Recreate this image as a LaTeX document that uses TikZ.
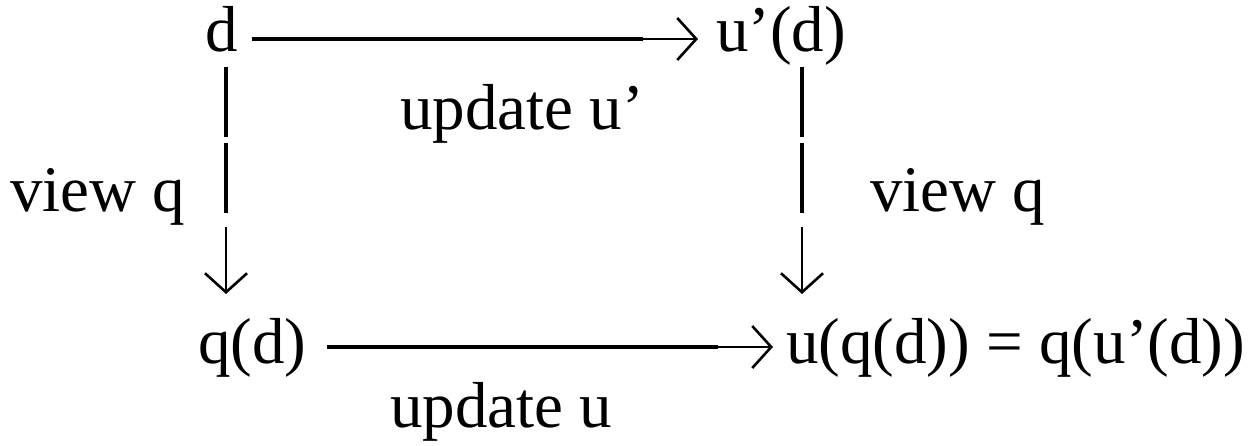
\documentclass[tikz,border=0pt]{standalone}
\usepackage{fontspec}
\setmainfont{Liberation Serif}
\usetikzlibrary{arrows.meta}
\begin{document}
\begin{tikzpicture}[x=1pt,y=-1pt,
  lbl/.style={anchor=base west,inner sep=0pt,font=\fontsize{65}{78}\selectfont},
  thickpart/.style={line width=4pt},
  thinpart/.style={line width=2.4pt,-{Straight Barb[length=19pt,width=42pt,line width=2.6pt]}}]
\useasboundingbox (0,0) rectangle (1251,446);
% nodes
\node[lbl] (d) at (205,52) {d};
\node[lbl] (up) at (716,52) {u’(d)};
\node[lbl] (qd) at (198,363) {q(d)};
\node[lbl] (res) at (786,363) {u(q(d)) = q(u’(d))};
\node[lbl] (lu1) at (400,130) {update u’};
\node[lbl] (lu2) at (390,428) {update u};
\node[lbl] (lv1) at (10,212) {view q};
\node[lbl] (lv2) at (870,212) {view q};
% coordinates
\coordinate (t1) at (252,39);
\coordinate (t2) at (643,39);
\coordinate (t3) at (698,39);
\coordinate (b1) at (327,347);
\coordinate (b2) at (718,347);
\coordinate (b3) at (773,347);
\coordinate (l1) at (226,67);
\coordinate (l2) at (226,137);
\coordinate (l3) at (226,143);
\coordinate (l4) at (226,213);
\coordinate (l5) at (226,227);
\coordinate (l6) at (226,294);
\coordinate (r1) at (802,67);
\coordinate (r2) at (802,137);
\coordinate (r3) at (802,143);
\coordinate (r4) at (802,213);
\coordinate (r5) at (802,227);
\coordinate (r6) at (802,294);
% horizontal connectors
\draw[thickpart] (t1) -- (t2);
\draw[thinpart] (t2) -- (t3);
\draw[thickpart] (b1) -- (b2);
\draw[thinpart] (b2) -- (b3);
% vertical connectors
\draw[thickpart] (l1) -- (l2);
\draw[thickpart] (l3) -- (l4);
\draw[thinpart] (l5) -- (l6);
\draw[thickpart] (r1) -- (r2);
\draw[thickpart] (r3) -- (r4);
\draw[thinpart] (r5) -- (r6);
\end{tikzpicture}
\end{document}
